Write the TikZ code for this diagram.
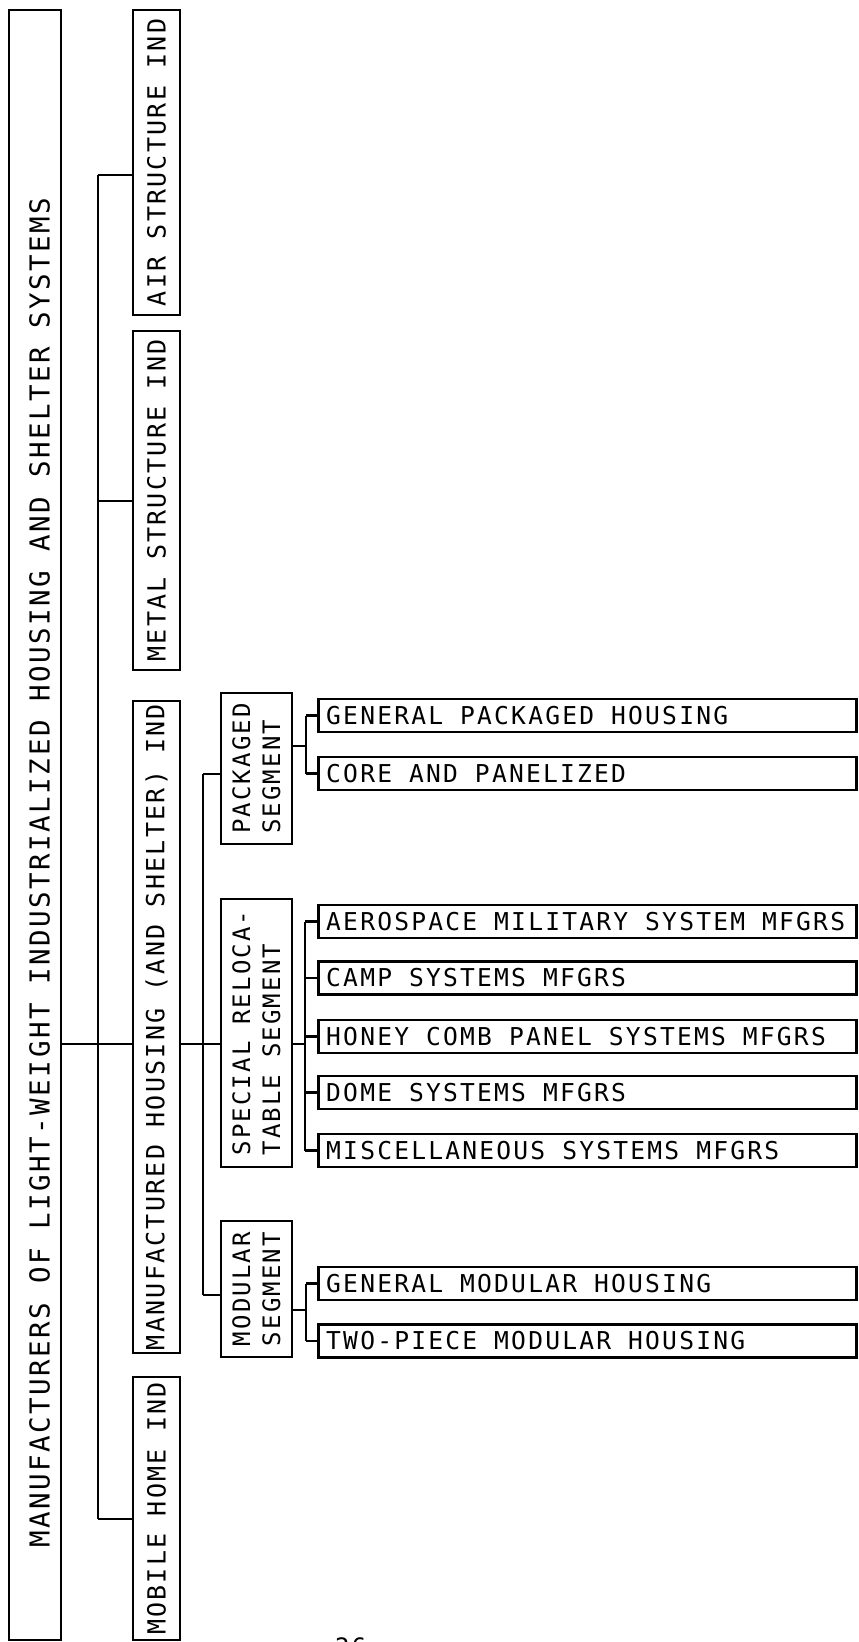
\documentclass[tikz,border=0pt]{standalone}
\usepackage{fontspec}
\newfontfamily\typer[LetterSpace=9]{DejaVu Sans Mono}
\newcommand\tsize[2]{\fontsize{#1}{#2}\typer\fontdimen2\font=0.692em\fontdimen3\font=0pt\fontdimen4\font=0pt\relax}
\usetikzlibrary{positioning,calc}
\tikzset{
  vbox/.style={draw,line width=2.5pt,rotate=90,inner sep=3pt,minimum height=47pt,font=\tsize{25}{27},
    execute at begin node={\spaceskip=0.692em\relax}},
  seg/.style={draw,line width=2.5pt,rotate=90,inner sep=3pt,align=left,minimum height=71pt,font=\tsize{24}{30},
    execute at begin node={\spaceskip=0.692em\relax}},
  leaf/.style={draw,line width=2.5pt,anchor=west,minimum width=538pt,minimum height=33pt},
  ltext/.style={anchor=west,inner sep=0pt,xshift=9pt,font=\tsize{24.6}{27}},
  conn/.style={line width=2.5pt},
}
\begin{document}
\begin{tikzpicture}[x=1pt,y=-1pt]
\useasboundingbox (0,0) rectangle (859,1642);
% top level
\node[draw,line width=2.5pt,rotate=90,minimum width=1630pt,minimum height=52pt] (main) at (35,825) {};
\node[rotate=90,anchor=west,inner sep=0pt,font=\tsize{27.5}{29}] (title) at (39.5,1548)
  {MANUFACTURERS OF LIGHT-WEIGHT INDUSTRIALIZED HOUSING AND SHELTER SYSTEMS};
\node[vbox,minimum width=305pt] (air) at (156.5,162.5) {AIR STRUCTURE IND};
\node[vbox,minimum width=339pt] (metal) at (156.5,500.5) {METAL STRUCTURE IND};
\node[vbox,minimum width=650pt] (manuf) at (156.5,1027) {MANUFACTURED HOUSING (AND SHELTER) IND};
\node[vbox,minimum width=263pt] (mobile) at (156.5,1508.5) {MOBILE HOME IND};
% segments
\node[seg,minimum width=151pt] (pack) at (256.5,768.5) {PACKAGED\\SEGMENT};
\node[seg,minimum width=268pt] (spec) at (256.5,1033) {SPECIAL RELOCA-\\TABLE SEGMENT};
\node[seg,minimum width=136pt] (modu) at (256.5,1289) {MODULAR\\SEGMENT};
% leaves
\foreach \n/\y/\t in {gpack/715.5/GENERAL PACKAGED HOUSING, core/773.5/CORE AND PANELIZED,
    aero/921.5/AEROSPACE MILITARY SYSTEM MFGRS, camp/978/CAMP SYSTEMS MFGRS,
    honey/1036.5/HONEY COMB PANEL SYSTEMS MFGRS, dome/1092.5/DOME SYSTEMS MFGRS,
    misc/1150.5/MISCELLANEOUS SYSTEMS MFGRS, gmod/1283.5/GENERAL MODULAR HOUSING,
    twop/1341/TWO-PIECE MODULAR HOUSING}
{
  \node[leaf] (\n) at (317,\y) {};
  \node[ltext] (\n-t) at (\n.west) {\t};
}
\node[font=\tsize{24}{24},anchor=north west,inner sep=0pt] (pg) at (335,1637) {26};
% buses
\coordinate (bus) at (98,1044);
\coordinate (sbus) at (203,1044);
\draw[conn] (main.south |- bus) -- (manuf.north |- bus);
\draw[conn] (98,175) -- (98,1519);
\draw[conn] (98,175) -- (air.north |- 0,175);
\draw[conn] (98,501) -- (metal.north |- 0,501);
\draw[conn] (98,1519) -- (mobile.north |- 0,1519);
\draw[conn] (manuf.south |- sbus) -- (spec.north |- sbus);
\draw[conn] (203,774) -- (203,1295);
\draw[conn] (203,774) -- (pack.north |- 0,774);
\draw[conn] (203,1295) -- (modu.north |- 0,1295);
% leaf buses
\draw[conn] (pack.south |- 0,746) -- (306,746);
\draw[conn] (306,715.5) -- (306,773.5);
\foreach \n in {gpack,core} \draw[conn] (306,0 |- \n.west) -- (\n.west);
\draw[conn] (spec.south |- sbus) -- (305,1044);
\draw[conn] (305,921.5) -- (305,1150.5);
\foreach \n in {aero,camp,honey,dome,misc} \draw[conn] (305,0 |- \n.west) -- (\n.west);
\draw[conn] (modu.south |- 0,1310) -- (306,1310);
\draw[conn] (306,1283.5) -- (306,1341);
\foreach \n in {gmod,twop} \draw[conn] (306,0 |- \n.west) -- (\n.west);
\end{tikzpicture}
\end{document}
